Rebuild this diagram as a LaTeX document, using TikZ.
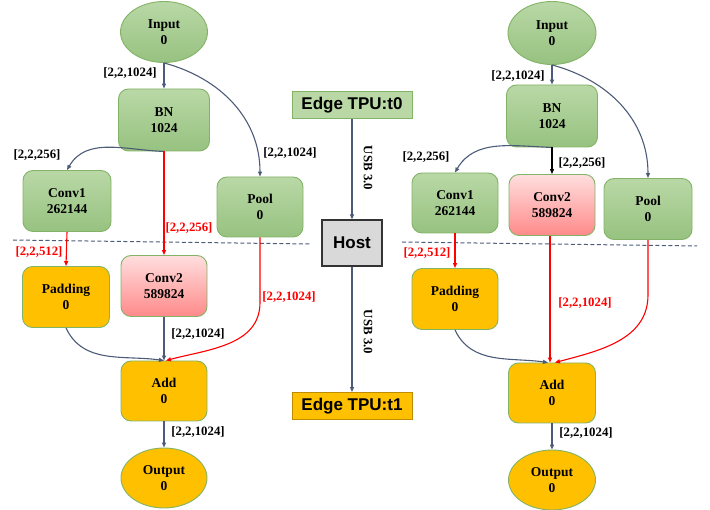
\documentclass[tikz,border=0pt]{standalone}
\usepackage{fontspec}
\setmainfont{Liberation Serif}
\newfontfamily\arialf{Liberation Sans}
\usetikzlibrary{shapes.geometric,arrows.meta}
\definecolor{edgegray}{RGB}{76,92,120}
\definecolor{gborder}{RGB}{130,179,102}
\definecolor{gtop}{RGB}{185,216,166}
\definecolor{gbot}{RGB}{151,194,128}
\definecolor{orangefill}{RGB}{255,192,0}
\definecolor{ptop}{RGB}{255,222,222}
\definecolor{pbot}{RGB}{255,138,138}
\definecolor{hostfill}{RGB}{217,217,217}
\definecolor{tpuborder}{RGB}{190,140,0}
\definecolor{redline}{RGB}{255,0,0}
\tikzset{
  op/.style={rounded corners=10pt, draw=gborder, line width=0.9pt, align=center,
    font=\fontsize{13.5}{16}\selectfont\bfseries, inner sep=0pt},
  gbox/.style={op, rectangle, top color=gtop, bottom color=gbot},
  obox/.style={op, rectangle, fill=orangefill},
  pbox/.style={op, rectangle, top color=ptop, bottom color=pbot},
  gell/.style={op, ellipse, top color=gtop, bottom color=gbot},
  oell/.style={op, ellipse, fill=orangefill},
  lbl/.style={font=\fontsize{12.8}{14}\selectfont\bfseries, inner sep=0pt, text=black},
  rlbl/.style={lbl, text=redline},
  garrow/.style={draw=edgegray, line width=1.1pt, -{Triangle[length=5pt,width=4pt]}},
  rarrow/.style={draw=redline, line width=1.1pt, -{Triangle[length=5pt,width=4pt]}},
  karrow/.style={draw=black, line width=1.1pt, -{Triangle[length=5pt,width=4pt]}},
  tpu/.style={rectangle, font=\arialf\fontsize{17}{20}\selectfont\bfseries, inner sep=0pt,
    minimum width=120pt, minimum height=27pt, line width=0.9pt},
  divider/.style={draw=edgegray, line width=1pt, dash pattern=on 4pt off 2.5pt},
}
\begin{document}
\begin{tikzpicture}[x=1pt,y=1pt]
\useasboundingbox (0,0) rectangle (710,-510);

% ---------------- Left graph ----------------
\node[gell, minimum width=87pt, minimum height=61pt] (inL) at (164,-32) {Input\\0};
\node[gbox, minimum width=91pt, minimum height=62pt] (bnL) at (164,-120) {BN\\1024};
\node[gbox, minimum width=88pt, minimum height=61pt] (c1L) at (67,-201) {Conv1\\262144};
\node[gbox, minimum width=86pt, minimum height=60pt] (poolL) at (260,-207) {Pool\\0};
\node[obox, minimum width=87pt, minimum height=61pt] (padL) at (66,-297) {Padding\\0};
\node[pbox, minimum width=86pt, minimum height=61pt] (c2L) at (164,-286) {Conv2\\589824};
\node[obox, minimum width=86pt, minimum height=60pt] (addL) at (164,-391) {Add\\0};
\node[oell, minimum width=86pt, minimum height=60pt] (outL) at (164,-478) {Output\\0};

\draw[divider] (13,-240) -- (310,-244);

\draw[garrow] (inL.south) -- (bnL.north);
\draw[garrow] (inL.south) to[out=-15,in=90] (poolL.north);
\draw[garrow] (bnL.south) to[out=178,in=60] (c1L.north);
\draw[rarrow] (bnL.south) -- (c2L.north);
\draw[rarrow] (c1L.south) -- (padL.north);
\draw[rarrow] (poolL.south) -- ++(0,-65) to[out=-90,in=15] ([xshift=2pt]addL.north);
\draw[garrow] (c2L.south) -- (addL.north);
\draw[garrow] (padL.south) to[out=-65,in=172] (addL.north);
\draw[garrow] (addL.south) -- (outL.north);

\node[lbl] (l1) at (130,-73) {[2,2,1024]};
\node[lbl] (l2) at (37,-155) {[2,2,256]};
\node[lbl] (l3) at (290,-153) {[2,2,1024]};
\node[rlbl] (l4) at (189,-228) {[2,2,256]};
\node[rlbl] (l5) at (39,-252) {[2,2,512]};
\node[rlbl] (l6) at (289,-297) {[2,2,1024]};
\node[lbl] (l7) at (198,-334) {[2,2,1024]};
\node[lbl] (l8) at (198,-432) {[2,2,1024]};

% ---------------- Middle ----------------
\node[tpu, draw=gborder, fill=gtop] (t0) at (352,-105) {Edge TPU:t0};
\node[rectangle, draw=black!80, line width=1.2pt, fill=hostfill, minimum width=60pt, minimum height=46pt,
  inner sep=0pt, font=\arialf\fontsize{17}{20}\selectfont\bfseries] (host) at (352,-243) {Host};
\node[tpu, draw=tpuborder, fill=orangefill] (t1) at (352,-406) {Edge TPU:t1};
\draw[garrow] (t0.south) -- (host.north);
\draw[garrow] (host.south) -- (t1.north);
\node[lbl, rotate=-90] (u1) at (368,-168) {USB 3.0};
\node[lbl, rotate=-90] (u2) at (368,-332) {USB 3.0};

% ---------------- Right graph ----------------
\node[gell, minimum width=88pt, minimum height=63pt] (inR) at (552,-33) {Input\\0};
\node[gbox, minimum width=91pt, minimum height=62pt] (bnR) at (552,-116) {BN\\1024};
\node[gbox, minimum width=86pt, minimum height=60pt] (c1R) at (455,-203) {Conv1\\262144};
\node[pbox, minimum width=86pt, minimum height=61pt] (c2R) at (552,-205) {Conv2\\589824};
\node[gbox, minimum width=88pt, minimum height=61pt] (poolR) at (648,-209) {Pool\\0};
\node[obox, minimum width=86pt, minimum height=61pt] (padR) at (455,-299) {Padding\\0};
\node[obox, minimum width=87pt, minimum height=60pt] (addR) at (552,-393) {Add\\0};
\node[oell, minimum width=87pt, minimum height=60pt] (outR) at (552,-480) {Output\\0};

\draw[divider] (402,-242) -- (697,-246);

\draw[garrow] (inR.south) -- (bnR.north);
\draw[garrow] (inR.south) to[out=-15,in=90] (poolR.north);
\draw[garrow] (bnR.south) to[out=178,in=60] (c1R.north);
\draw[karrow] (bnR.south) -- (c2R.north);
\draw[rarrow] (c1R.south) -- (padR.north);
\draw[rarrow] ([xshift=-2pt]c2R.south) -- ([xshift=-2pt]addR.north);
\draw[rarrow] (poolR.south) -- ++(0,-55) to[out=-90,in=15] ([xshift=3pt]addR.north);
\draw[garrow] (padR.south) to[out=-65,in=172] ([xshift=-4pt]addR.north);
\draw[garrow] (addR.south) -- (outR.north);

\node[lbl] (r1) at (518,-76) {[2,2,1024]};
\node[lbl] (r2) at (426,-157) {[2,2,256]};
\node[lbl] (r3) at (582,-163) {[2,2,256]};
\node[rlbl] (r5) at (427,-253) {[2,2,512]};
\node[rlbl] (r6) at (585,-303) {[2,2,1024]};
\node[lbl] (r8) at (586,-433) {[2,2,1024]};
\end{tikzpicture}
\end{document}
